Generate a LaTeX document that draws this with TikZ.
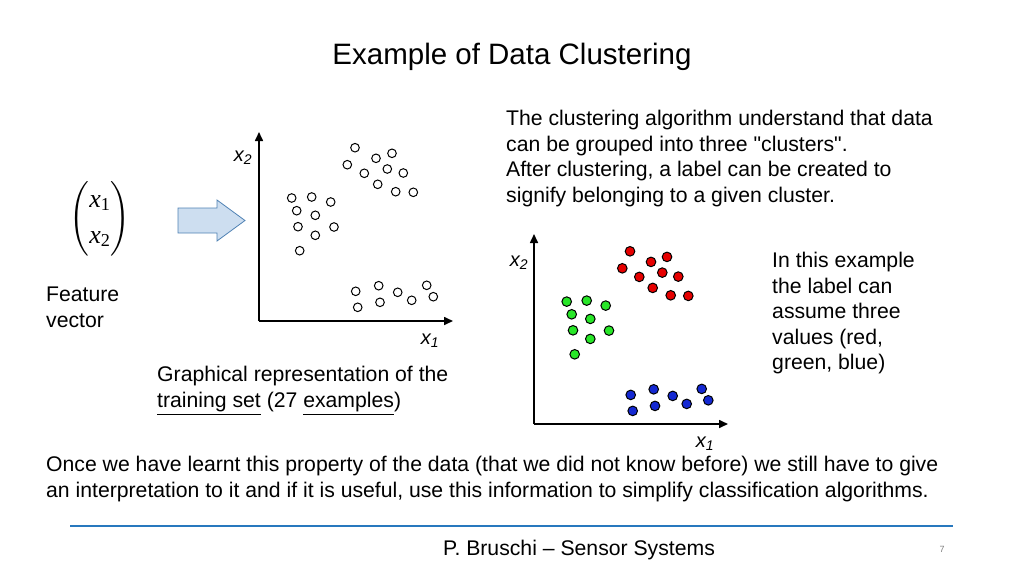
\documentclass[tikz,border=0pt]{standalone}
\usepackage{fontspec}
\setmainfont{Liberation Sans}
\newfontfamily\vecfont{Liberation Serif}
\usepackage{amsmath}
\usetikzlibrary{arrows.meta,positioning}
\definecolor{footblue}{RGB}{40,120,190}
\definecolor{arrowblue}{RGB}{80,130,180}
\definecolor{arrowfill}{RGB}{205,222,240}
\definecolor{dotred}{RGB}{230,0,0}
\definecolor{dotgreen}{RGB}{40,230,40}
\definecolor{dotblue}{RGB}{20,40,210}

\begin{document}
\begin{tikzpicture}[x=1pt,y=-1pt,
    txt/.style={font=\fontsize{21.2}{25.5}\selectfont, align=left, anchor=north west, inner sep=0pt},
    axis/.style={line width=1.6pt, -{Triangle[length=9pt,width=8pt]}},
    odot/.style={draw=black, line width=1pt, fill=white},
    axlabel/.style={font=\fontsize{20}{22}\selectfont\itshape, inner sep=0pt}]
    \useasboundingbox (0,0) rectangle (1024,576);

    % Title
    \node[font=\fontsize{29.5}{32}\selectfont] (title) at (512,57) {Example of Data Clustering};

    % Feature vector
    \node[font=\fontsize{26}{30}\selectfont] (vec) at (100,219)
        {$\begin{pmatrix} \text{\vecfont\itshape x}_{\text{\vecfont 1}} \\[6pt]
            \text{\vecfont\itshape x}_{\text{\vecfont 2}} \end{pmatrix}$};
    \node[txt] (feat) at (46,287) {Feature\\vector};

    % Block arrow
    \fill[arrowfill, draw=arrowblue, line width=0.8pt]
        (178,208) -- (217,208) -- (217,200) -- (245,220.5) -- (217,241) -- (217,233) -- (178,233) -- cycle;

    % Left plot
    \coordinate (o1) at (259,321);
    \coordinate (y1) at (259,132);
    \coordinate (x1) at (453,321);
    \draw[axis] (o1) -- (y1);
    \draw[axis] (o1) -- (x1);
    \node[axlabel] (l1y) at (243,158) {x\textsubscript{2}};
    \node[axlabel] (l1x) at (430,341) {x\textsubscript{1}};
    \foreach \px/\py in {355/147.7,347.3/164.7,376/158.3,392/153.3,364.3/173.3,387.3/169,
        403.3/173,377.7/184.3,395.7/191.7,413.3/192.3,
        291.7/198,311.7/197,330.7/202,296.7/210.7,315.3/215.3,298/226.7,334/227,315.3/235.3,299.7/250.7,
        355.7/291.3,378.7/285.7,397.7/292.3,426.7/285.3,357.7/307.3,380/302.3,411.7/300.3,433.3/296.7}
        \draw[odot] (\px,\py) circle (4.3);
    \node[txt] (graph) at (157,366) {Graphical representation of the\\
        \underline{training set} (27 \underline{examples})};

    % Right plot
    \coordinate (o2) at (534,424);
    \coordinate (y2) at (534,234);
    \coordinate (x2) at (728,424);
    \draw[axis] (o2) -- (y2);
    \draw[axis] (o2) -- (x2);
    \node[axlabel] (l2y) at (519,263) {x\textsubscript{2}};
    \node[axlabel] (l2x) at (705,444) {x\textsubscript{1}};
    \begin{scope}[shift={(275,103.6)}]
    \foreach \px/\py/\c in {355/147.7/dotred,347.3/164.7/dotred,376/158.3/dotred,392/153.3/dotred,
        364.3/173.3/dotred,387.3/169/dotred,403.3/173/dotred,377.7/184.3/dotred,395.7/191.7/dotred,413.3/192.3/dotred,
        291.7/198/dotgreen,311.7/197/dotgreen,330.7/202/dotgreen,296.7/210.7/dotgreen,315.3/215.3/dotgreen,
        298/226.7/dotgreen,334/227/dotgreen,315.3/235.3/dotgreen,299.7/250.7/dotgreen,
        355.7/291.3/dotblue,378.7/285.7/dotblue,397.7/292.3/dotblue,426.7/285.3/dotblue,
        357.7/307.3/dotblue,380/302.3/dotblue,411.7/300.3/dotblue,433.3/296.7/dotblue}
        \draw[odot, fill=\c] (\px,\py) circle (4.8);
    \end{scope}

    % Explanations
    \node[txt] (algo) at (506,110) {The clustering algorithm understand that data\\
        can be grouped into three \textquotedbl clusters\textquotedbl.\\
        After clustering, a label can be created to\\
        signify belonging to a given cluster.};
    \node[txt] (label) at (772,252) {In this example\\the label can\\assume three\\values (red,\\green, blue)};
    \node[txt] (once) at (46,456) {Once we have learnt this property of the data (that we did not know before) we still have to give\\
        an interpretation to it and if it is useful, use this information to simplify classification algorithms.};

    % Footer
    \draw[footblue, line width=2.5pt] (70,526) -- (953,526);
    \node[font=\fontsize{21.2}{24}\selectfont] (foot) at (579,550) {P. Bruschi – Sensor Systems};
    \node[font=\fontsize{9}{10}\selectfont, text=gray] (page) at (942,549) {7};
\end{tikzpicture}
\end{document}
